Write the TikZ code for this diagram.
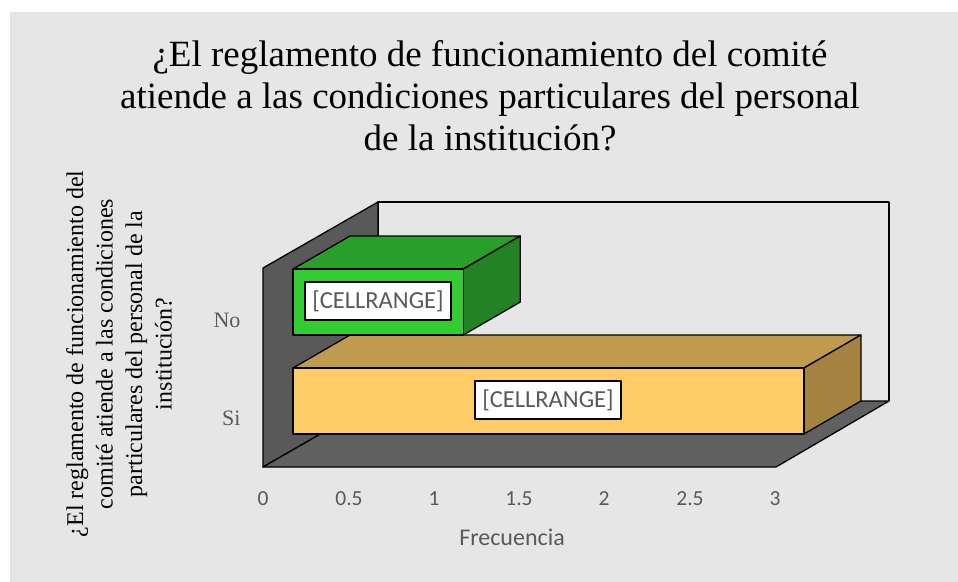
\documentclass[tikz,border=0pt]{standalone}
\usepackage{fontspec}
\setmainfont{Liberation Serif}
\newfontfamily\chartsans{Carlito}
\definecolor{chartbg}{HTML}{E6E6E6}
\definecolor{wallgray}{HTML}{595959}
\definecolor{floorgray}{HTML}{606060}
\definecolor{nofront}{HTML}{33CC33}
\definecolor{notop}{HTML}{299E29}
\definecolor{noside}{HTML}{238223}
\definecolor{sifront}{HTML}{FDCC66}
\definecolor{sitop}{HTML}{C09B4E}
\definecolor{siside}{HTML}{A4823F}
\definecolor{labelgray}{HTML}{595959}
\begin{document}
\begin{tikzpicture}[x=1pt,y=-1pt,line join=round,face/.style={draw=black,line width=1.3pt},wall/.style={face,fill=wallgray},cellrange/.style={draw=black,line width=1.2pt,fill=white,text=labelgray,font=\chartsans\fontsize{24.5}{28}\selectfont,minimum width=146,minimum height=38,inner sep=0},tick/.style={anchor=base,text=labelgray,font=\chartsans\fontsize{21.5}{24}\selectfont},cat/.style={anchor=base east,text=labelgray,font=\fontsize{22}{26}\selectfont}]
\def\dx{57};
\def\dy{-33};
\def\xz{293};
\def\ux{170.3};

\useasboundingbox (0,0) rectangle (958,581);
\fill[chartbg,draw=black!12] (10,12) rectangle (960,583);

\node[align=center,anchor=base,inner sep=0,font=\fontsize{37}{42}\selectfont] (title) at (490,150) {¿El reglamento de funcionamiento del comité\\atiende a las condiciones particulares del personal\\de la institución?};
\node[rotate=90,align=center,font=\fontsize{24}{29.5}\selectfont] (ytitle) at (119,354) {¿El reglamento de funcionamiento del\\comité atiende a las condiciones\\particulares del personal de la\\institución?};

\draw[face,fill=chartbg] (378,401) -- (378,202) -- (889,202) -- (889,401);
\draw[wall] (263,467) -- (263,268) -- (378,202) -- (378,401) -- cycle;
\draw[wall,fill=floorgray] (263,467) -- (776,467) -- (889,401) -- (378,401) -- cycle;

\draw[face,fill=sitop] (\xz,368) -- (\xz+\dx,368+\dy) -- (\xz+3*\ux+\dx,368+\dy) -- (\xz+3*\ux,368) -- cycle;
\draw[face,fill=siside] (\xz+3*\ux,368) -- (\xz+3*\ux+\dx,368+\dy) -- (\xz+3*\ux+\dx,434+\dy) -- (\xz+3*\ux,434) -- cycle;
\draw[face,fill=sifront] (\xz,368) rectangle (\xz+3*\ux,434);

\draw[face,fill=notop] (\xz,269) -- (\xz+\dx,269+\dy) -- (\xz+\ux+\dx,269+\dy) -- (\xz+\ux,269) -- cycle;
\draw[face,fill=noside] (\xz+\ux,269) -- (\xz+\ux+\dx,269+\dy) -- (\xz+\ux+\dx,335+\dy) -- (\xz+\ux,335) -- cycle;
\draw[face,fill=nofront] (\xz,269) rectangle (\xz+\ux,335);

\node[cellrange] (cellNo) at (378,301) {[CELLRANGE]};
\node[cellrange] (cellSi) at (548,400) {[CELLRANGE]};

\node[cat] (catNo) at (244,327) {No};
\node[cat] (catSi) at (244,425) {Si};

\node[tick] (t0) at (263,505) {0};
\node[tick] (t05) at (349,505) {0.5};
\node[tick] (t1) at (434,505) {1};
\node[tick] (t15) at (519,505) {1.5};
\node[tick] (t2) at (604,505) {2};
\node[tick] (t25) at (690,505) {2.5};
\node[tick] (t3) at (775,505) {3};

\node[anchor=base,text=labelgray,font=\chartsans\fontsize{24}{28}\selectfont] (xtitle) at (512,545) {Frecuencia};
\end{tikzpicture}
\end{document}
